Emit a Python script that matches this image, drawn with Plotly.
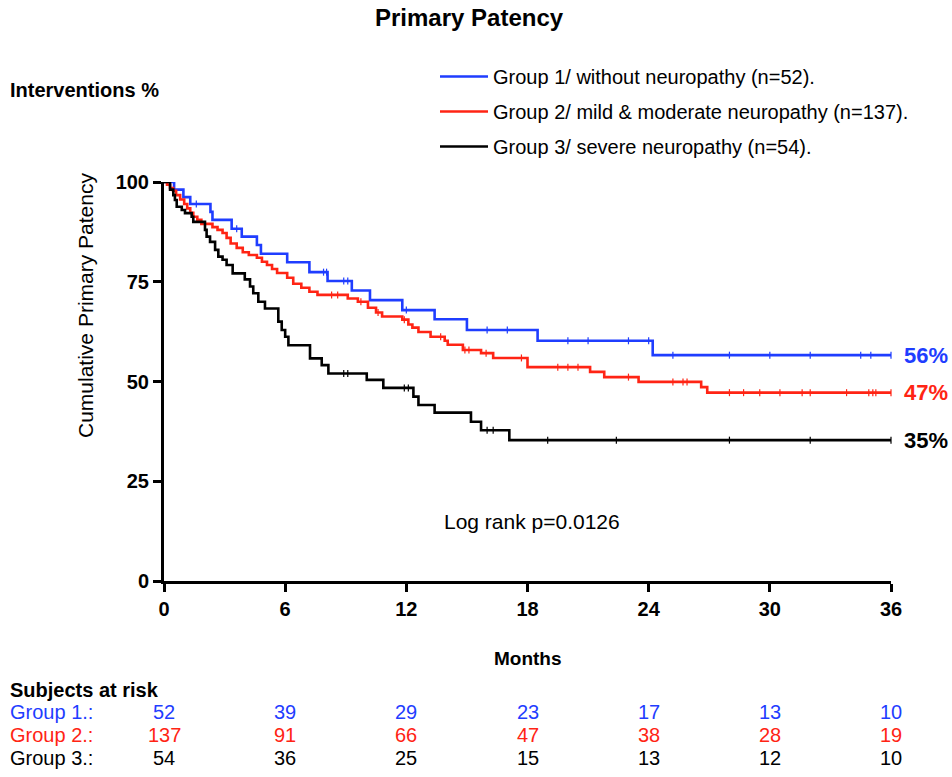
import numpy as np
import plotly.graph_objects as go

# ---------------- data ----------------
months_ticks = [0, 6, 12, 18, 24, 30, 36]
patency_ticks = [0, 25, 50, 75, 100]

group_names = [
    "Group 1/ without neuropathy (n=52).",
    "Group 2/ mild & moderate neuropathy (n=137).",
    "Group 3/ severe neuropathy (n=54).",
]
group_short = ["Group 1.:", "Group 2.:", "Group 3.:"]
group_colors = ["#1f3dff", "#ff2414", "#000000"]
end_labels = ["56%", "47%", "35%"]

g1_time = [0, 0.5, 0.96, 1.3, 2.3, 2.4, 3.35, 3.85, 4.6, 4.8, 6.1, 7.2, 8.1, 9.3,
           10.2, 11.8, 13.4, 15.0, 18.5, 24.2, 36]
g1_surv = [100, 98.1, 96.2, 94.5, 92.5, 90.5, 88.3, 86.3, 84.2, 82.0, 79.9, 77.4,
           75.2, 72.8, 70.4, 67.9, 65.6, 62.9, 60.2, 56.6, 56.6]
g1_cens = [1.6, 3.6, 7.9, 8.05, 8.9, 9.1, 12.0, 16.0, 17.0, 20.0, 21.0, 23.0,
           24.0, 25.2, 28.0, 30.0, 32.0, 34.5, 35.0, 36.0]

g2_time = [0, 0.15, 0.3, 0.45, 0.6, 0.8, 1.0, 1.15, 1.3, 1.45, 1.65, 1.85, 2.4,
           2.65, 2.9, 3.1, 3.3, 3.6, 3.9, 4.2, 4.6, 4.85, 5.1, 5.35, 5.6, 6.1,
           6.4, 6.8, 7.2, 7.6, 9.1, 9.6, 10.1, 10.5, 10.8, 11.8, 12.1, 12.3, 12.6,
           13.2, 13.9, 14.05, 14.8, 15.7, 16.3, 18.0, 21.1, 21.8, 23.5, 26.6,
           26.9, 36]
g2_surv = [100, 99.3, 98.5, 97.8, 96.7, 95.6, 94.5, 93.4, 92.3, 91.3, 90.5, 89.5,
           88.7, 88.0, 87.2, 86.0, 84.6, 83.5, 82.4, 81.7, 81.0, 80.0, 79.2, 78.2,
           77.2, 76.0, 74.5, 73.5, 72.5, 71.7, 70.8, 70.0, 68.5, 67.3, 66.3, 65.5,
           64.3, 63.5, 62.4, 61.2, 60.2, 59.2, 57.9, 57.1, 55.9, 53.6, 52.4, 51.1,
           49.9, 48.6, 47.2, 47.2]
g2_cens = [8.3, 8.6, 9.75, 10.6, 11.9, 13.7, 14.9, 15.1, 15.95, 17.7, 19.5, 20.0,
           20.5, 23.0, 25.2, 25.7, 25.9, 28.0, 28.7, 29.5, 30.5, 31.6, 32.0, 33.8,
           34.9, 35.1, 35.25, 36.0]

g3_time = [0, 0.3, 0.46, 0.54, 0.63, 0.88, 1.04, 1.37, 1.45, 2.03, 2.11, 2.28,
           2.53, 2.69, 2.9, 3.1, 3.4, 4.0, 4.26, 4.42, 4.67, 5.0, 5.66, 5.83, 6.0,
           6.16, 7.23, 7.81, 8.14, 10.04, 10.86, 12.35, 12.6, 13.4, 15.2, 15.7,
           17.1, 36]
g3_surv = [100, 98.1, 96.7, 95.5, 93.8, 93.0, 92.2, 91.3, 90.0, 88.0, 86.3, 85.0,
           83.0, 81.3, 80.5, 79.2, 77.1, 75.6, 73.8, 72.1, 70.0, 68.3, 65.0, 62.9,
           61.2, 59.1, 55.8, 54.1, 52.0, 50.4, 48.4, 46.2, 44.1, 42.2, 39.9, 37.8,
           35.3, 35.3]
g3_cens = [8.9, 9.1, 11.9, 12.1, 16.0, 16.3, 19.0, 22.4, 28.0, 32.0, 36.0]

at_risk_g1 = [52, 39, 29, 23, 17, 13, 10]
at_risk_g2 = [137, 91, 66, 47, 38, 28, 19]
at_risk_g3 = [54, 36, 25, 15, 13, 12, 10]

# ---------------- figure ----------------
FONT = "Liberation Sans, Arial, Helvetica, sans-serif"

times = [g1_time, g2_time, g3_time]
survs = [g1_surv, g2_surv, g3_surv]
cens = [g1_cens, g2_cens, g3_cens]
at_risk = [at_risk_g1, at_risk_g2, at_risk_g3]

fig = go.Figure()
for i in range(3):
    t = np.array(times[i], dtype=float)
    s = np.array(survs[i], dtype=float)
    fig.add_trace(go.Scatter(
        x=t, y=s, mode="lines", name=group_names[i], legendgroup=str(i),
        line=dict(shape="hv", color=group_colors[i], width=2.6),
        cliponaxis=False,
    ))
    c = np.array(cens[i], dtype=float)
    idx = np.searchsorted(t, c, side="right") - 1
    fig.add_trace(go.Scatter(
        x=c, y=s[idx], mode="markers", showlegend=False, legendgroup=str(i),
        marker=dict(symbol="line-ns", size=5,
                    line=dict(width=1.2, color=group_colors[i])),
        cliponaxis=False, hoverinfo="skip",
    ))

axis_common = dict(
    showline=True, linewidth=3, linecolor="black", mirror=False,
    ticks="outside", ticklen=8, tickwidth=2.5, tickcolor="black",
    showgrid=False, zeroline=False,
    tickfont=dict(family=FONT, size=20, color="black", weight="bold"),
)

fig.update_xaxes(range=[0, 36], tickvals=months_ticks, **axis_common)
fig.update_yaxes(range=[0, 100], tickvals=patency_ticks, **axis_common)


def px_x(px):
    return (px - 164) / 727.0


def px_y(py):
    return (581 - py) / 399.0


def txt(text, x, y, size, color="black", xanchor="center", xref="paper",
        yref="paper", **kw):
    return dict(text=text, x=x, y=y, xref=xref, yref=yref, xanchor=xanchor,
                yanchor="middle", showarrow=False,
                font=dict(family=FONT, size=size, color=color), **kw)


ann = [
    txt("<b>Primary Patency</b>", px_x(469), px_y(17), 24),
    txt("<b>Interventions %</b>", px_x(8), px_y(90), 20, xanchor="left"),
    txt("Cumulative Primary Patency", px_x(85), px_y(306), 21, textangle=-90),
    txt("<b>Months</b>", px_x(528), px_y(658), 19),
    txt("Log rank p=0.0126", px_x(532), px_y(521), 21),
    txt("<b>Subjects at risk</b>", px_x(8), px_y(690), 20, xanchor="left"),
]

row_py = [712, 735, 758]
for i in range(3):
    ann.append(txt(group_short[i], px_x(8), px_y(row_py[i]), 20,
                   color=group_colors[i], xanchor="left"))
    for m, n in zip(months_ticks, at_risk[i]):
        ann.append(txt(str(n), m, px_y(row_py[i]), 20, color=group_colors[i],
                       xref="x"))
    ann.append(txt("<b>%s</b>" % end_labels[i], 36, survs[i][-1], 22,
                   color=group_colors[i], xanchor="left", xref="x", yref="y",
                   xshift=11))

fig.update_layout(
    width=952, height=777,
    margin=dict(l=164, r=61, t=182, b=196, pad=0),
    paper_bgcolor="white", plot_bgcolor="white",
    showlegend=True,
    legend=dict(x=px_x(435), y=px_y(57), xanchor="left", yanchor="top",
                orientation="v", tracegroupgap=6, itemwidth=48,
                bgcolor="rgba(0,0,0,0)",
                font=dict(family=FONT, size=20, color="black")),
    annotations=ann,
)

fig.write_html("out.html", config={"displayModeBar": False},
               post_script="document.body.style.margin='0';")
